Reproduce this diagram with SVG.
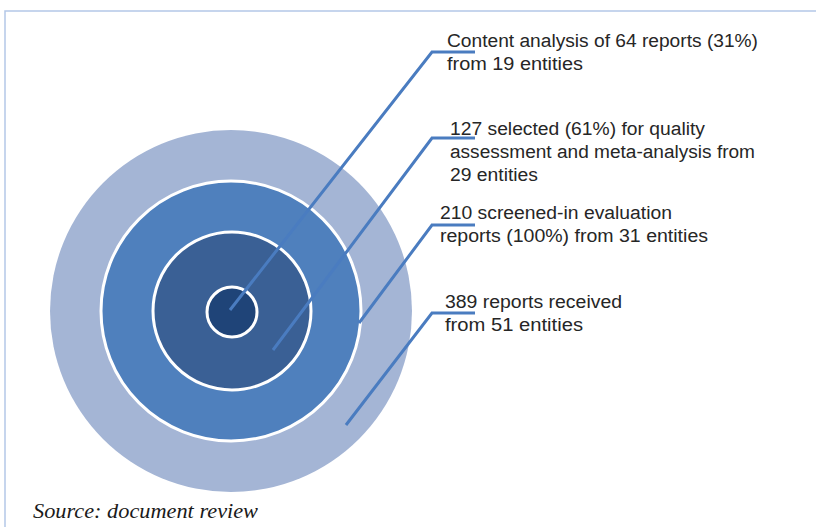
<svg xmlns="http://www.w3.org/2000/svg" width="816" height="527" viewBox="0 0 816 527">
<style>
.lbl{font-family:"Liberation Sans",Arial,sans-serif;font-size:18px;fill:#262626}
.src{font-family:"Liberation Serif","Times New Roman",serif;font-size:20px;font-style:italic;fill:#1a1a1a}
.ring{stroke:#ffffff;stroke-width:3}
.lead{fill:none;stroke:#4A7CC0;stroke-width:3}
</style>
<rect x="0" y="0" width="816" height="527" fill="#ffffff"/>
<rect x="5" y="11" width="830" height="540" fill="none" stroke="#B4C7E7" stroke-width="1.5"/>
<g id="ring-389"><circle cx="231" cy="311" r="181" fill="#A4B5D5"/></g>
<g id="ring-210"><circle cx="231" cy="311" r="130" fill="#4F80BD" class="ring"/></g>
<g id="ring-127"><circle cx="232" cy="311" r="79" fill="#3A6095" class="ring"/></g>
<g id="ring-64"><circle cx="232" cy="312" r="25" fill="#1F4478" class="ring"/></g>
<g id="connectors">
<polyline class="lead" points="475,52 432,52 230,310"/>
<polyline class="lead" points="475,138 432,138 273,350"/>
<polyline class="lead" points="475,225 432,225 359,323"/>
<polyline class="lead" points="475,313 432,313 346,425"/>
</g>
<g id="label-64">
<text class="lbl" x="447" y="47" textLength="311" lengthAdjust="spacingAndGlyphs">Content analysis of 64 reports (31%)</text>
<text class="lbl" x="447" y="70" textLength="136" lengthAdjust="spacingAndGlyphs">from 19 entities</text>
</g>
<g id="label-127">
<text class="lbl" x="450" y="135" textLength="255" lengthAdjust="spacingAndGlyphs">127 selected (61%) for quality</text>
<text class="lbl" x="450" y="158" textLength="305" lengthAdjust="spacingAndGlyphs">assessment and meta-analysis from</text>
<text class="lbl" x="450" y="181" textLength="88" lengthAdjust="spacingAndGlyphs">29 entities</text>
</g>
<g id="label-210">
<text class="lbl" x="440" y="219" textLength="232" lengthAdjust="spacingAndGlyphs">210 screened-in evaluation</text>
<text class="lbl" x="440" y="242" textLength="268" lengthAdjust="spacingAndGlyphs">reports (100%) from 31 entities</text>
</g>
<g id="label-389">
<text class="lbl" x="445" y="308" textLength="177" lengthAdjust="spacingAndGlyphs">389 reports received</text>
<text class="lbl" x="445" y="331" textLength="138" lengthAdjust="spacingAndGlyphs">from 51 entities</text>
</g>
<text class="src" x="33" y="518" textLength="225" lengthAdjust="spacingAndGlyphs">Source: document review</text>
</svg>
